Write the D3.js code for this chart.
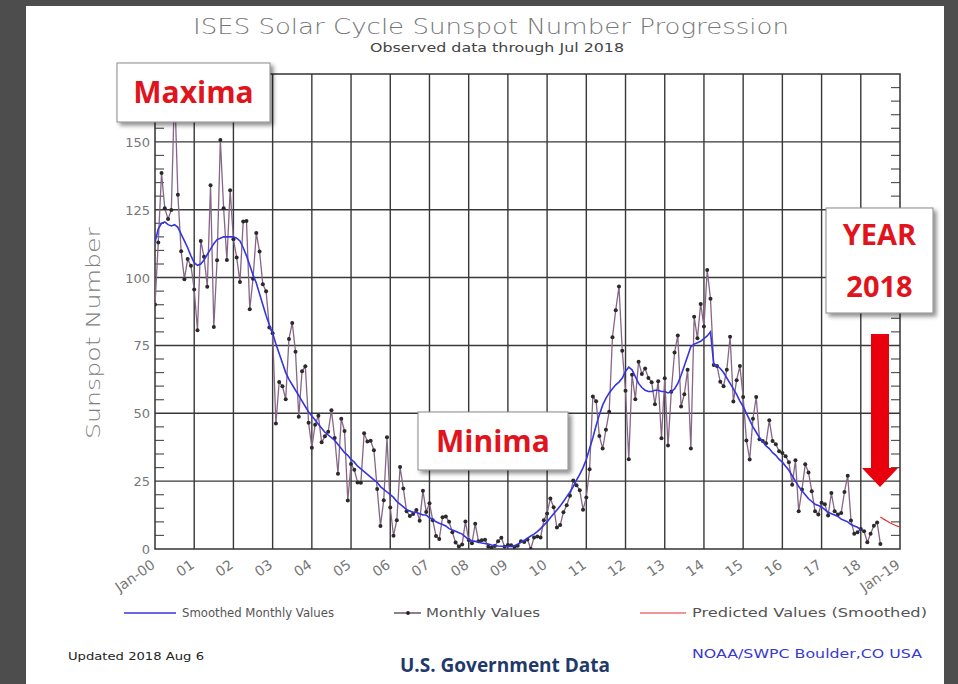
<!DOCTYPE html>
<html>
<head>
<meta charset="utf-8">
<script src="https://cdn.jsdelivr.net/npm/d3@7"></script>
<style>
  body { margin: 0; background: #4d4d4d; }
  svg { display: block; }
</style>
</head>
<body>
<svg id="chart" width="958" height="684"></svg>
<script>
// monthly sunspot numbers, Jan 2000 .. Jul 2018
const monthlyValues = [
  90.1, 112.9, 138.5, 125.5, 121.6, 124.9, 170.1, 130.5, 109.7, 99.4, 106.8, 104.4, // 2000
  95.6, 80.6, 113.5, 107.7, 96.6, 134.0, 81.8, 106.4, 150.7, 125.5, 106.5, 132.2,   // 2001
  114.1, 107.4, 98.4, 120.7, 120.8, 88.3, 99.6, 116.4, 109.6, 97.5, 95.0, 81.6,     // 2002
  79.5, 46.2, 61.5, 60.0, 55.2, 77.4, 83.3, 72.7, 48.7, 65.5, 67.3, 46.5,           // 2003
  37.3, 45.8, 49.1, 39.3, 41.5, 43.2, 51.1, 40.9, 27.7, 48.0, 43.5, 17.9,           // 2004
  31.3, 29.2, 24.5, 24.4, 42.6, 39.6, 39.9, 36.4, 22.1, 8.5, 18.0, 41.2,            // 2005
  15.3, 4.9, 10.6, 30.2, 22.3, 13.9, 12.2, 12.9, 14.4, 10.4, 21.5, 13.6,            // 2006
  16.9, 10.6, 4.8, 3.7, 11.7, 12.0, 10.0, 6.2, 2.4, 0.9, 1.7, 10.1,                 // 2007
  3.3, 2.1, 9.3, 2.9, 3.2, 3.4, 0.8, 0.5, 1.1, 2.9, 4.1, 0.8,                       // 2008
  1.5, 1.4, 0.7, 1.2, 2.9, 2.6, 3.5, 0.0, 4.2, 4.6, 4.2, 10.6,                      // 2009
  13.1, 18.6, 15.4, 7.9, 8.8, 13.5, 16.1, 19.6, 25.2, 23.5, 21.6, 14.5,             // 2010
  19.0, 29.4, 56.2, 54.4, 41.6, 37.0, 43.9, 50.6, 78.0, 88.0, 96.7, 73.0,           // 2011
  58.3, 33.1, 64.2, 55.2, 69.0, 64.5, 66.5, 63.0, 61.4, 53.3, 61.8, 40.8,           // 2012
  62.9, 38.1, 57.9, 72.4, 78.7, 52.5, 57.0, 66.0, 37.0, 85.6, 77.6, 90.3,           // 2013
  82.0, 102.8, 92.2, 67.8, 67.4, 61.6, 60.0, 66.0, 78.2, 54.3, 62.2, 67.4,          // 2014
  56.0, 40.0, 33.0, 48.0, 56.0, 40.4, 39.8, 39.0, 47.4, 39.8, 38.6, 36.0,           // 2015
  35.4, 34.2, 32.0, 23.7, 32.7, 13.9, 21.9, 31.2, 28.2, 21.3, 13.9, 12.7,           // 2016
  17.0, 16.5, 12.3, 20.6, 13.9, 12.7, 13.3, 21.0, 27.0, 10.5, 5.6, 6.2,             // 2017
  7.4, 6.5, 2.5, 5.6, 8.6, 9.8, 1.8                                                 // 2018
];

// smoothed monthly values, Jan 2000 .. Jan 2018
const smoothedValues = [
  113, 118, 120, 120.5, 119.5, 119, 119.5, 118.5, 116, 113.5, 111, 108,
  105.5, 104.5, 105, 106.5, 108.5, 110.5, 112.5, 114, 114.5, 115, 115, 115,
  115, 114.5, 113.5, 111, 108, 104.5, 101, 98, 94, 90, 86, 82.5,
  79.5, 75.5, 72, 68.5, 65, 62.5, 60.5, 58.5, 56.5, 54.5, 52.5, 50.5,
  49, 47.5, 46, 44.5, 43, 42, 41, 40, 38.5, 37, 35.5, 34.5,
  33, 32, 30.5, 29.5, 28.5, 27.5, 26.5, 25.5, 24.5, 23, 22, 21,
  20, 19, 17.5, 16.5, 15.5, 14.5, 14, 13.5, 13.5, 13, 12.5, 12.5,
  11.5, 11, 10, 9.5, 9, 8.5, 7.5, 7, 6.5, 6, 5.5, 4.5,
  3.5, 3, 2.8, 2.5, 2.2, 2, 1.8, 1.5, 1.3, 1.1, 1, 0.9,
  0.9, 0.9, 1.2, 1.8, 2.5, 3.2, 4, 4.8, 5.5, 6.4, 7.5, 8.8,
  10, 11.5, 13, 14.4, 15.8, 17.5, 19.3, 21, 23, 25.4, 27.5, 30,
  33, 37, 41, 45.5, 49.5, 53, 55.5, 57.5, 59, 60.5, 61.5, 63,
  65.5, 67, 66, 63.5, 61, 59.5, 58.5, 58, 58, 58.5, 58.5, 58,
  58, 57.5, 58, 59, 61, 64, 67.5, 71, 74.5, 75.5, 76, 76.5,
  77.5, 78.5, 80, 68, 67.5, 66.5, 65, 63, 61, 59, 57, 54.5,
  52.5, 50, 47.5, 45, 43, 41, 39.5, 38, 37, 35.5, 34.5, 33,
  32, 30.5, 29, 27, 25, 23, 21.5, 20, 18.5, 17.5, 16.5, 16,
  15.5, 14.5, 13.5, 13, 12.5, 12, 11, 10.5, 10, 9, 8.5, 8,
  7
];

// predicted smoothed values, Jul 2018 .. Jan 2019
const predictedStart = 222;
const predictedValues = [11.8, 11.0, 10.3, 9.6, 9.0, 8.5, 8.1];

const yearLabels = ["Jan-00", "01", "02", "03", "04", "05", "06", "07", "08", "09", "10",
  "11", "12", "13", "14", "15", "16", "17", "18", "Jan-19"];
const yTicks = [0, 25, 50, 75, 100, 125, 150];

const svg = d3.select("#chart");
const plot = { left: 155, right: 900, top: 74, bottom: 549 };

const x = d3.scaleLinear().domain([0, 228]).range([plot.left, plot.right]);
const y = d3.scaleLinear().domain([0, 175]).range([plot.bottom, plot.top]);

// drop shadow for the callout boxes
const defs = svg.append("defs");
const shadow = defs.append("filter").attr("id", "shadow")
  .attr("x", "-10%").attr("y", "-10%").attr("width", "130%").attr("height", "130%");
shadow.append("feDropShadow").attr("dx", 3).attr("dy", 3)
  .attr("stdDeviation", 2).attr("flood-color", "#000").attr("flood-opacity", 0.45);
defs.append("clipPath").attr("id", "plotclip").append("rect")
  .attr("x", plot.left).attr("y", plot.top)
  .attr("width", plot.right - plot.left).attr("height", plot.bottom - plot.top);

// white panel
svg.append("rect").attr("x", 26).attr("y", 6).attr("width", 918).attr("height", 684).attr("fill", "#fff");

// title
svg.append("text").attr("x", 491).attr("y", 34).attr("text-anchor", "middle")
  .attr("font-family", "DejaVu Sans").attr("font-size", 21).attr("font-weight", 300)
  .attr("fill", "#777").attr("textLength", 596).attr("lengthAdjust", "spacingAndGlyphs")
  .text("ISES Solar Cycle Sunspot Number Progression");
svg.append("text").attr("x", 497).attr("y", 52).attr("text-anchor", "middle")
  .attr("font-family", "DejaVu Sans").attr("font-size", 12)
  .attr("fill", "#444").attr("textLength", 254).attr("lengthAdjust", "spacingAndGlyphs")
  .text("Observed data through Jul 2018");

// grid
const grid = svg.append("g").attr("stroke", "#383838").attr("stroke-width", 1.4);
grid.selectAll(".vg").data(d3.range(1, 19)).enter().append("line")
  .attr("x1", d => x(d * 12)).attr("x2", d => x(d * 12))
  .attr("y1", plot.top).attr("y2", plot.bottom);
grid.selectAll(".hg").data(yTicks.slice(1)).enter().append("line")
  .attr("x1", plot.left).attr("x2", plot.right)
  .attr("y1", d => y(d)).attr("y2", d => y(d));

// minor ticks every 5
const minor = d3.range(5, 175, 5).filter(v => v % 25 !== 0);
const ticks = svg.append("g").attr("stroke", "#555").attr("stroke-width", 1.2);
ticks.selectAll(".tl").data(minor).enter().append("line")
  .attr("x1", plot.left).attr("x2", plot.left + 9)
  .attr("y1", d => y(d)).attr("y2", d => y(d));
ticks.selectAll(".tr").data(minor).enter().append("line")
  .attr("x1", plot.right - 9).attr("x2", plot.right)
  .attr("y1", d => y(d)).attr("y2", d => y(d));

// frame
svg.append("rect").attr("x", plot.left).attr("y", plot.top)
  .attr("width", plot.right - plot.left).attr("height", plot.bottom - plot.top)
  .attr("fill", "none").attr("stroke", "#333").attr("stroke-width", 1.5);

// y tick labels
svg.append("g").selectAll("text").data(yTicks).enter().append("text")
  .attr("x", plot.left - 5).attr("y", d => y(d) + 5)
  .attr("text-anchor", "end").attr("font-family", "DejaVu Sans").attr("font-size", 13)
  .attr("fill", "#777").text(d => d);

// y axis title
svg.append("text").attr("transform", "translate(100,333) rotate(-90)")
  .attr("text-anchor", "middle").attr("font-family", "DejaVu Sans").attr("font-size", 20)
  .attr("font-weight", 300).attr("fill", "#808080").attr("textLength", 212)
  .attr("lengthAdjust", "spacingAndGlyphs").text("Sunspot Number");

// x tick labels
svg.append("g").selectAll("text").data(yearLabels).enter().append("text")
  .attr("transform", (d, i) => `translate(${x(i * 12) + 1},${plot.bottom + 18}) rotate(-35)`)
  .attr("text-anchor", "end").attr("font-family", "DejaVu Sans").attr("font-size", 14)
  .attr("fill", "#777").text(d => d);

// series
const series = svg.append("g").attr("clip-path", "url(#plotclip)");
const line = d3.line().x(d => x(d[0])).y(d => y(d[1]));
const monthlyPts = monthlyValues.map((v, i) => [i, v]);

series.append("path").datum(monthlyPts).attr("d", line)
  .attr("fill", "none").attr("stroke", "#866686").attr("stroke-width", 1.3);
series.selectAll("circle").data(monthlyPts).enter().append("circle")
  .attr("cx", d => x(d[0])).attr("cy", d => y(d[1])).attr("r", 2).attr("fill", "#2a2a2a");
series.append("path").datum(smoothedValues.map((v, i) => [i, v])).attr("d", line)
  .attr("fill", "none").attr("stroke", "#3535e0").attr("stroke-width", 1.6);
series.append("path").datum(predictedValues.map((v, i) => [predictedStart + i, v])).attr("d", line)
  .attr("fill", "none").attr("stroke", "#e03030").attr("stroke-width", 1.2);

// legend
const lg = svg.append("g").attr("font-family", "DejaVu Sans").attr("font-size", 12).attr("fill", "#555");
lg.append("line").attr("x1", 124).attr("x2", 176).attr("y1", 613).attr("y2", 613).attr("stroke", "#3535e0").attr("stroke-width", 1.4);
lg.append("text").attr("x", 182).attr("y", 617).attr("textLength", 152).attr("lengthAdjust", "spacingAndGlyphs").text("Smoothed Monthly Values");
lg.append("line").attr("x1", 394).attr("x2", 421).attr("y1", 613).attr("y2", 613).attr("stroke", "#5a4a5a").attr("stroke-width", 1.4);
lg.append("circle").attr("cx", 408).attr("cy", 613).attr("r", 1.9).attr("fill", "#222");
lg.append("text").attr("x", 426).attr("y", 617).attr("textLength", 114).attr("lengthAdjust", "spacingAndGlyphs").text("Monthly Values");
lg.append("line").attr("x1", 640).attr("x2", 686).attr("y1", 613).attr("y2", 613).attr("stroke", "#e03030").attr("stroke-width", 1.2);
lg.append("text").attr("x", 692).attr("y", 617).attr("textLength", 235).attr("lengthAdjust", "spacingAndGlyphs").text("Predicted Values (Smoothed)");

// footer
svg.append("text").attr("x", 68).attr("y", 660).attr("font-family", "DejaVu Sans").attr("font-size", 10)
  .attr("fill", "#222").attr("textLength", 136).attr("lengthAdjust", "spacingAndGlyphs").text("Updated 2018 Aug  6");
svg.append("text").attr("x", 692).attr("y", 658).attr("font-family", "DejaVu Sans").attr("font-size", 12)
  .attr("fill", "#3a3ad0").attr("textLength", 230).attr("lengthAdjust", "spacingAndGlyphs").text("NOAA/SWPC Boulder,CO USA");
svg.append("text").attr("x", 505).attr("y", 672).attr("text-anchor", "middle").attr("font-family", "Open Sans")
  .attr("font-size", 19).attr("font-weight", 700).attr("fill", "#1f3a6a").text("U.S. Government Data");

// callouts
function callout(bx, by, bw, bh, lines, fs) {
  const g = svg.append("g");
  g.append("rect").attr("x", bx).attr("y", by).attr("width", bw).attr("height", bh)
    .attr("fill", "#fff").attr("stroke", "#8a8a8a").attr("stroke-width", 1).attr("filter", "url(#shadow)");
  const lh = bh / lines.length;
  lines.forEach((t, i) => {
    g.append("text").attr("x", bx + bw / 2).attr("y", by + lh * i + lh / 2 + fs * 0.36)
      .attr("text-anchor", "middle").attr("font-family", "Open Sans").attr("font-weight", 700)
      .attr("font-size", fs).attr("fill", "#e0141c").text(t);
  });
}
callout(117, 63, 153, 59, ["Maxima"], 30);
callout(418, 412, 150, 58, ["Minima"], 30);
callout(826, 208, 107, 105, ["YEAR", "2018"], 29);

// arrow pointing down to 2018
svg.append("path")
  .attr("d", "M871,334 L889,334 L889,468 L898,468 L880,487 L862,468 L871,468 Z")
  .attr("fill", "#e8000c");
</script>
</body>
</html>
